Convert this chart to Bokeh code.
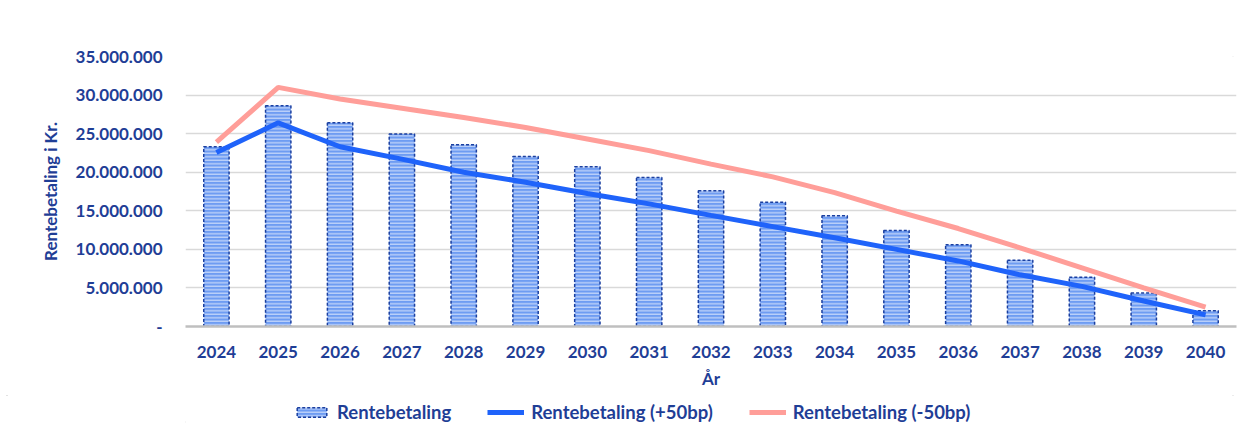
from bokeh.plotting import figure
from bokeh.layouts import column
from bokeh.models import FactorRange, Range1d, FixedTicker, Legend, LegendItem
from bokeh.embed import file_html
from bokeh.resources import INLINE

years = [str(y) for y in range(2024, 2041)]
rentebetaling = [23.3, 28.6, 26.4, 24.95, 23.55, 22.05, 20.7, 19.3, 17.6, 16.1, 14.35, 12.45, 10.6, 8.6, 6.4, 4.35, 2.05]
plus50 = [22.55, 26.4, 23.3, 21.7, 20.0, 18.7, 17.25, 15.9, 14.4, 12.95, 11.5, 10.0, 8.5, 6.7, 5.2, 3.3, 1.5]
minus50 = [23.9, 31.0, 29.5, 28.3, 27.1, 25.8, 24.3, 22.8, 21.05, 19.4, 17.35, 14.95, 12.7, 10.2, 7.6, 5.0, 2.5]
rentebetaling = [v * 1e6 for v in rentebetaling]
plus50 = [v * 1e6 for v in plus50]
minus50 = [v * 1e6 for v in minus50]
y_ticks = [0, 5000000, 10000000, 15000000, 20000000, 25000000, 30000000, 35000000]
series_names = ["Rentebetaling", "Rentebetaling (+50bp)", "Rentebetaling (-50bp)"]

TXT = "#1F3E96"
FONT = "Lato"
BAR_STYLE = dict(fill_color="#6E9CF2", line_color="#1A3FA0", line_width=1.5, line_dash="3 2",
                 hatch_pattern="horizontal_line", hatch_color="white", hatch_alpha=0.75,
                 hatch_scale=3.5, hatch_weight=1)
BLUE = "#1F63FA"
PINK = "#FF9E99"

p = figure(width=1240, height=395, x_range=FactorRange(factors=years, range_padding=0),
           y_range=Range1d(0, 35000000), output_backend="svg", toolbar_location=None,
           min_border_left=185, min_border_right=4, min_border_top=56, min_border_bottom=69)
p.outline_line_color = None
p.background_fill_color = "white"
p.border_fill_color = "white"

bars = p.vbar(x=years, top=rentebetaling, width=0.41, **BAR_STYLE)
l1 = p.line(x=years, y=plus50, line_color=BLUE, line_width=5)
l2 = p.line(x=years, y=minus50, line_color=PINK, line_width=5)

# y axis
p.yaxis.ticker = FixedTicker(ticks=y_ticks)
overrides = {}
for t in y_ticks:
    overrides[t] = "-" if t == 0 else f"{t:,}".replace(",", ".")
p.yaxis.major_label_overrides = overrides
p.yaxis.axis_line_color = None
p.yaxis.major_tick_line_color = None
p.yaxis.minor_tick_line_color = None
p.yaxis.major_label_text_font = FONT
p.yaxis.major_label_text_font_style = "bold"
p.yaxis.major_label_text_font_size = "17px"
p.yaxis.major_label_text_color = TXT
p.yaxis.major_label_standoff = 17
p.yaxis.axis_label = "Rentebetaling i Kr."
p.yaxis.axis_label_text_font = FONT
p.yaxis.axis_label_text_font_style = "bold"
p.yaxis.axis_label_text_font_size = "17px"
p.yaxis.axis_label_text_color = TXT
p.yaxis.axis_label_standoff = 12
p.ygrid.grid_line_color = "#D9D9D9"
p.ygrid.grid_line_width = 1.5
p.xgrid.grid_line_color = None

# x axis
p.xaxis.axis_line_color = "#BFBFBF"
p.xaxis.axis_line_width = 2.5
p.xaxis.major_tick_line_color = None
p.xaxis.minor_tick_line_color = None
p.xaxis.major_label_text_font = FONT
p.xaxis.major_label_text_font_style = "bold"
p.xaxis.major_label_text_font_size = "17px"
p.xaxis.major_label_text_color = TXT
p.xaxis.major_label_standoff = 13
p.xaxis.axis_label = "År"
p.xaxis.axis_label_text_font = FONT
p.xaxis.axis_label_text_font_style = "bold"
p.xaxis.axis_label_text_font_size = "17px"
p.xaxis.axis_label_text_color = TXT
p.xaxis.axis_label_standoff = 7

# legend in a separate strip below the chart (dummy glyphs kept outside the visible range)
lf = figure(width=1240, height=34, x_range=Range1d(0, 1), y_range=Range1d(0, 1),
            output_backend="svg", toolbar_location=None,
            min_border_left=0, min_border_right=0, min_border_top=0, min_border_bottom=0)
lf.axis.visible = False
lf.grid.visible = False
lf.outline_line_color = None
lf.border_fill_color = "white"
lb = lf.vbar(x=[-10], top=[-5], width=0.4, **BAR_STYLE)
ll1 = lf.line(x=[-10, -9], y=[-5, -5], line_color=BLUE, line_width=5)
ll2 = lf.line(x=[-10, -9], y=[-5, -5], line_color=PINK, line_width=5)

legend = Legend(items=[LegendItem(label=series_names[0], renderers=[lb]),
                       LegendItem(label=series_names[1], renderers=[ll1]),
                       LegendItem(label=series_names[2], renderers=[ll2])],
                orientation="horizontal", location=(108, 6))
legend.border_line_color = None
legend.background_fill_alpha = 0
legend.label_text_font = FONT
legend.label_text_font_style = "bold"
legend.label_text_font_size = "18.5px"
legend.label_text_color = TXT
legend.glyph_width = 37
legend.glyph_height = 12
legend.label_standoff = 7
legend.spacing = 36
legend.padding = 2
legend.margin = 0
lf.add_layout(legend, "center")

layout = column(p, lf, spacing=0,
                styles={"outline": "2px solid #D9D9D9", "outline-offset": "-8px"})
open("out.html", "w").write(file_html(layout, INLINE))
